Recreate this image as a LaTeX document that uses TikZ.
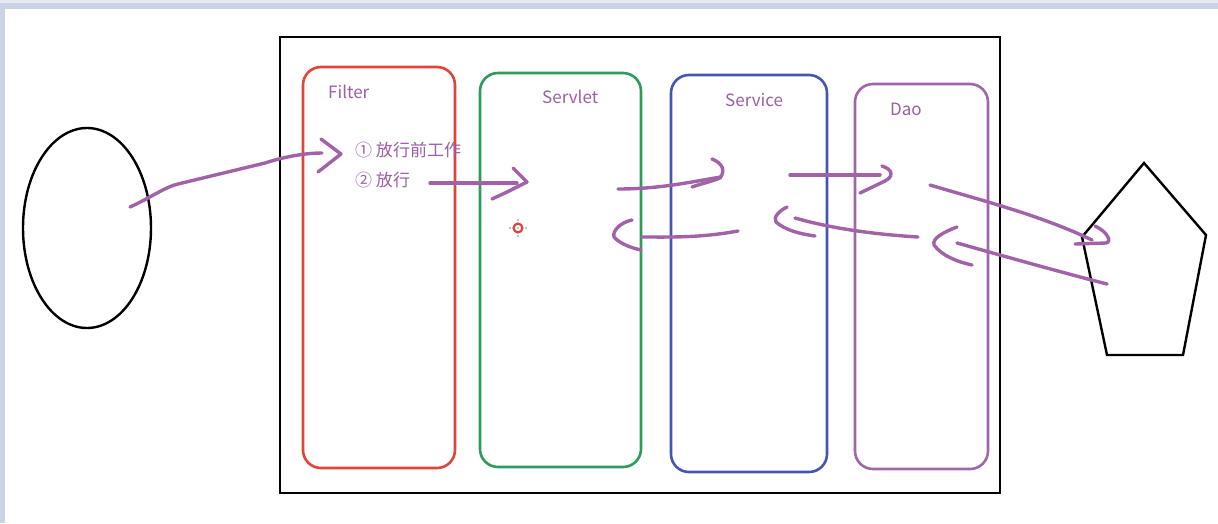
\documentclass[tikz,border=0pt]{standalone}
\usepackage{fontspec}
\setmainfont{Noto Sans CJK SC}
\usetikzlibrary{shapes.geometric}
\definecolor{edgeblue}{HTML}{C9D3E5}
\definecolor{filterred}{HTML}{E0443A}
\definecolor{servletgreen}{HTML}{2E9B5B}
\definecolor{serviceblue}{HTML}{4655B5}
\definecolor{daopurple}{HTML}{A066AA}
\definecolor{penpurple}{HTML}{A262A8}
\definecolor{labelpurple}{HTML}{9B5FA5}

\begin{document}
\begin{tikzpicture}[x=1pt,y=-1pt,
  layer/.style={rectangle,rounded corners=18pt,line width=2.6pt,inner sep=0pt},
  tag/.style={anchor=west,inner sep=0pt,text=labelpurple,font=\fontsize{17}{20}\selectfont},
  pen/.style={penpurple,line width=3.4pt,line cap=round,line join=round}]
\useasboundingbox (0,0) rectangle (1218,523);
\fill[white] (0,0) rectangle (1218,523);
\fill[edgeblue!50] (0,0) rectangle (1218,3);
\fill[edgeblue] (0,3) rectangle (1218,9);
\fill[edgeblue] (0,3) rectangle (5,523);

% client and database
\node[ellipse,draw,line width=2.4pt,minimum width=128pt,minimum height=200pt,inner sep=0pt] (client) at (87,228) {};
\draw[line width=2.4pt,line join=miter] (1144,163) -- (1206,235) -- (1183,355) -- (1107,355) -- (1082,237) -- cycle;

% server and its layers
\node[rectangle,draw,line width=2.8pt,minimum width=720pt,minimum height=456pt,inner sep=0pt] (server) at (640,265) {};
\node[layer,draw=filterred,minimum width=152pt,minimum height=401pt] (filter) at (379,267.5) {};
\node[layer,draw=servletgreen,minimum width=161pt,minimum height=394pt] (servlet) at (560.5,270) {};
\node[layer,draw=serviceblue,minimum width=156pt,minimum height=397pt] (service) at (749,273.5) {};
\node[layer,draw=daopurple,minimum width=133pt,minimum height=385pt] (dao) at (921.5,276.5) {};

\node[tag] (filterlbl) at (328,92) {Filter};
\node[tag] (servletlbl) at (542,97) {Servlet};
\node[tag] (servicelbl) at (725,100) {Service};
\node[tag] (daolbl) at (890,109) {Dao};
\node[tag] (step1) at (355,150) {① 放行前工作};
\node[tag] (step2) at (355,180) {② 放行};

% cursor mark
\draw[filterred,line width=2.2pt] (518,228) circle (4.4pt);
\foreach \dx/\dy in {-8/0,8/0,0/-8,0/8,0/0}
  \fill[black] (518+\dx,228+\dy) circle (0.7pt);

% request strokes
\draw[pen] (130,207) .. controls (150,198) and (165,187) .. (178,184) -- (265,163) .. controls (290,155) and (310,153) .. (322,153);
\draw[pen] (321,139) -- (341,154) -- (318,172);
\draw[pen] (430,183) -- (517,183);
\draw[pen] (513,168) -- (527,182) -- (505,193) -- (492,199);
\draw[pen] (618,189) .. controls (660,189) and (690,182) .. (721,177);
\draw[pen] (712,159) .. controls (722,163) and (726,170) .. (720,178) .. controls (710,182) and (700,184) .. (692,187);
\draw[pen] (790,175) -- (880,175);
\draw[pen] (882,166) .. controls (894,170) and (893,177) .. (885,181) -- (860,193);
\draw[pen] (930,185) .. controls (980,200) and (1040,215) .. (1092,240);
\draw[pen] (1095,226) .. controls (1108,232) and (1112,242) .. (1106,243) -- (1075,244);

% response strokes
\draw[pen] (738,231) .. controls (700,238) and (670,237) .. (642,237);
\draw[pen] (632,220) .. controls (622,222) and (612,230) .. (614,237) .. controls (620,244) and (632,248) .. (641,250);
\draw[pen] (918,237) .. controls (870,234) and (830,228) .. (795,218);
\draw[pen] (787,207) .. controls (779,211) and (773,217) .. (776,222) .. controls (785,230) and (800,234) .. (815,236);
\draw[pen] (1107,284) .. controls (1060,272) and (1000,255) .. (957,243);
\draw[pen] (957,227) .. controls (944,232) and (932,238) .. (934,245) .. controls (942,256) and (958,262) .. (972,265);
\end{tikzpicture}
\end{document}
